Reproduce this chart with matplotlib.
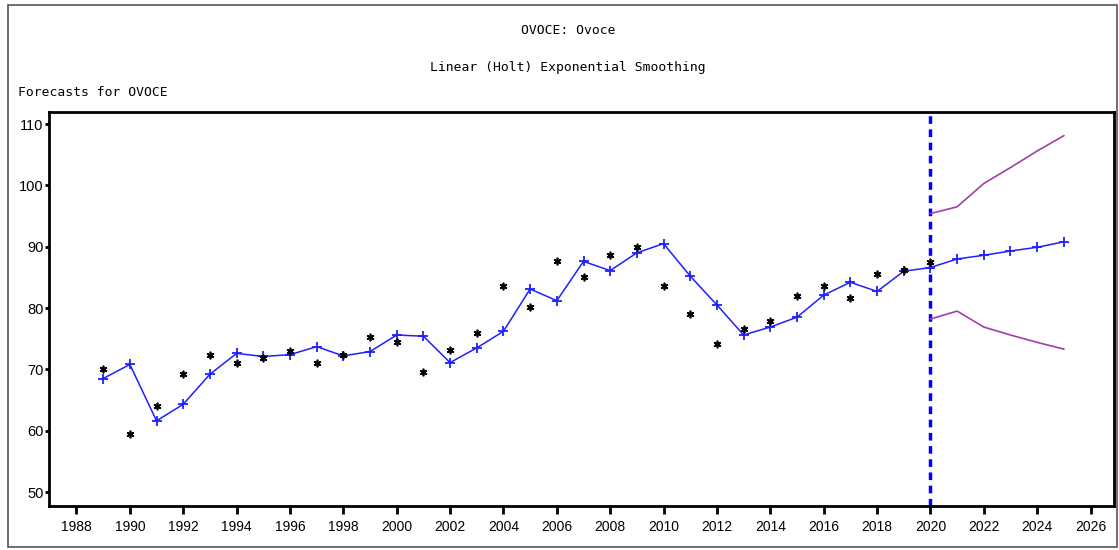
import matplotlib
matplotlib.use("Agg")
import matplotlib.pyplot as plt
from matplotlib.patches import Rectangle

# ---- data ----
fit_years = list(range(1989, 2026))
fitted = [68.5, 70.8, 61.6, 64.3, 69.2, 72.6, 72.1, 72.4, 73.7, 72.2,
          72.9, 75.6, 75.4, 71.1, 73.5, 76.2, 83.1, 81.2, 87.6, 86.1,
          89.0, 90.5, 85.2, 80.5, 75.6, 76.9, 78.5, 82.1, 84.2, 82.7,
          86.0, 86.6, 88.0, 88.6, 89.3, 89.9, 90.8]
act_years = list(range(1989, 2021))
actual = [70.1, 59.4, 64.0, 69.2, 72.4, 71.1, 71.8, 73.0, 71.1, 72.3,
          75.2, 74.5, 69.6, 73.2, 75.9, 83.6, 80.1, 87.7, 85.0, 88.6,
          90.0, 83.6, 79.0, 74.1, 76.5, 77.9, 82.0, 83.6, 81.6, 85.6,
          86.2, 87.5]
band_years = [2020, 2021, 2022, 2023, 2024, 2025]
upper = [95.4, 96.5, 100.3, 102.9, 105.6, 108.1]
lower = [78.2, 79.5, 76.9, 75.6, 74.4, 73.3]
forecast_start = 2020
xticks = list(range(1988, 2027, 2))
yticks = [50, 60, 70, 80, 90, 100, 110]

title1 = "OVOCE: Ovoce"
title2 = "Linear (Holt) Exponential Smoothing"
ylabel_text = "Forecasts for OVOCE"

# ---- figure ----
W, H = 1119, 550
fig = plt.figure(figsize=(W / 100, H / 100), dpi=100)
fig.patch.set_facecolor("white")

# outer frame
fig.patches.append(Rectangle((8 / W, 1 - 547 / H), (1117 - 8) / W, (547 - 5) / H,
                             transform=fig.transFigure, fill=False,
                             edgecolor="#555555", linewidth=1.2))

ax = fig.add_axes([49 / W, 1 - 506 / H, (1114 - 49) / W, (506 - 112) / H])

ax.axvline(forecast_start, color="#0000ff", linewidth=2.5,
           linestyle=(0, (2.2, 1.6)), zorder=1)

ax.plot(fit_years, fitted, color="#1f1fff", linewidth=1.1, marker="+",
        markersize=6.5, markeredgewidth=1.3, zorder=3)
ax.plot(act_years, actual, linestyle="none", marker=(6, 2, 0), markersize=5.5,
        color="black", markeredgewidth=1.2, zorder=4)
ax.plot(band_years, upper, color="#a040a8", linewidth=1.2, zorder=2)
ax.plot(band_years, lower, color="#a040a8", linewidth=1.2, zorder=2)

ax.set_xlim(1986.97, 2026.88)
ax.set_ylim(47.72, 111.96)
ax.set_xticks(xticks)
ax.set_yticks(yticks)
ax.tick_params(axis="x", direction="out", length=6, width=2, pad=4,
               labelsize=10)
ax.tick_params(axis="y", direction="out", length=3, width=2, pad=1,
               labelsize=10.5)
for lab in ax.get_xticklabels() + ax.get_yticklabels():
    lab.set_fontfamily("Liberation Sans")
for sp in ax.spines.values():
    sp.set_linewidth(2)

mono = "DejaVu Sans Mono"
fig.text(568 / W, 1 - 30 / H, title1, ha="center", va="center",
         fontsize=9.4, family=mono)
fig.text(568 / W, 1 - 67 / H, title2, ha="center", va="center",
         fontsize=9.4, family=mono)
fig.text(18 / W, 1 - 93 / H, ylabel_text, ha="left", va="center",
         fontsize=9.4, family=mono)

fig.savefig("out.png", dpi=100)
